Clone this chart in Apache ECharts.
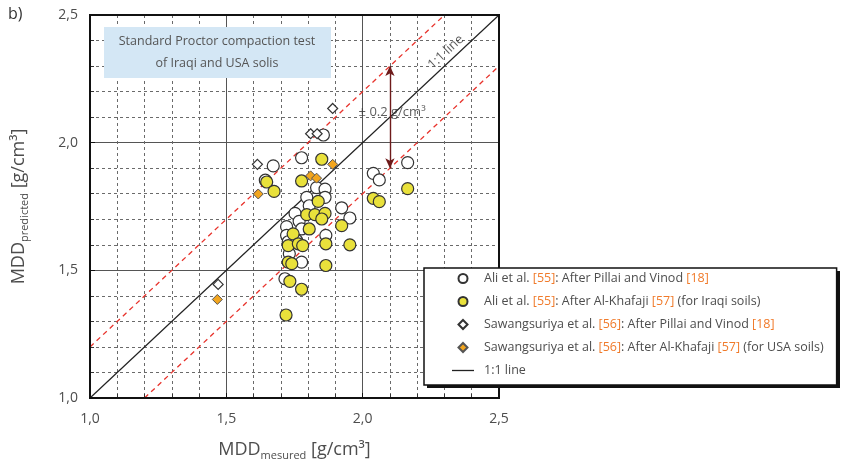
<!DOCTYPE html>
<html><head><meta charset="utf-8">
<script src="https://cdn.jsdelivr.net/npm/echarts@6/dist/echarts.min.js"></script>
<style>html,body{margin:0;padding:0;background:#fff}#c{width:842px;height:460px}</style>
</head><body><div id="c"></div>
<script>
// Ali et al. [55]: After Pillai and Vinod [18]  (white circles) [measured, predicted]
const aliPillai = [
  [1.856,2.030],[1.776,1.941],[1.672,1.909],[1.643,1.853],[2.165,1.922],[2.039,1.880],
  [2.061,1.854],[1.831,1.824],[1.862,1.818],[1.795,1.786],[1.862,1.786],[1.804,1.753],
  [1.923,1.745],[1.953,1.705],[1.752,1.723],[1.767,1.692],[1.721,1.671],[1.776,1.662],
  [1.721,1.637],[1.865,1.637],[1.758,1.617],[1.727,1.612],[1.731,1.565],[1.776,1.532],
  [1.715,1.467]
];
// Ali et al. [55]: After Al-Khafaji [57] (yellow circles)
const aliKhafaji = [
  [1.850,1.935],[1.648,1.846],[1.776,1.850],[1.675,1.809],[2.165,1.820],[2.039,1.782],
  [2.061,1.769],[1.837,1.770],[1.795,1.718],[1.825,1.718],[1.862,1.723],[1.850,1.701],
  [1.804,1.662],[1.923,1.675],[1.745,1.643],[1.727,1.597],[1.764,1.604],[1.780,1.597],
  [1.865,1.604],[1.953,1.600],[1.727,1.532],[1.740,1.526],[1.865,1.519],[1.733,1.457],
  [1.776,1.426],[1.719,1.325]
];
// Sawangsuriya et al. [56]: After Pillai and Vinod [18] (white diamonds)
const sawPillai = [[1.890,2.134],[1.809,2.035],[1.833,2.035],[1.614,1.915],[1.470,1.445]];
// Sawangsuriya et al. [56]: After Al-Khafaji [57] (orange diamonds)
const sawKhafaji = [[1.890,1.915],[1.809,1.870],[1.831,1.861],[1.617,1.799],[1.467,1.386]];

const axisMin = 1.0, axisMax = 2.5;
const band = 0.2;          // ± 0.2 g/cm³
const arrowX = 2.1;
const seriesNames = [
  'Ali et al. [55]: After Pillai and Vinod [18]',
  'Ali et al. [55]: After Al-Khafaji [57] (for Iraqi soils)',
  'Sawangsuriya et al. [56]: After Pillai and Vinod [18]',
  'Sawangsuriya et al. [56]: After Al-Khafaji [57] (for USA soils)',
  '1:1 line'
];

const FONT = '"Open Sans", "Noto Sans", sans-serif';
const TXT = '#4d4d4d';
const fmt = v => v.toFixed(1).replace('.', ',');
const DIAMOND = 'path://M5,0L10,5L5,10L0,5Z';
const BAR = 'path://M0,0L22,0L22,1.3L0,1.3Z';

const chart = echarts.init(document.getElementById('c'), null, {renderer:'canvas'});

const minorAxis = (pos) => ({
  type:'value', min:axisMin, max:axisMax, interval:0.1, position:pos,
  axisLine:{show:false}, axisLabel:{show:false},
  axisTick:{show:true, inside:true, length:4, lineStyle:{color:'#333', width:1}},
  splitLine:{show:true, showMinLine:false, showMaxLine:false, lineStyle:{color:'#6a6a6a', width:1, type:[3,3]}}
});

const richName = {
  m:{fontSize:18, color:TXT, fontFamily:FONT},
  s:{fontSize:11, color:TXT, fontFamily:FONT, padding:[12,0,0,0]}
};

const legendData = [
  {name:seriesNames[0], icon:'circle'},
  {name:seriesNames[1], icon:'circle'},
  {name:seriesNames[2], icon:DIAMOND},
  {name:seriesNames[3], icon:DIAMOND},
  {name:seriesNames[4], icon:BAR}
];
const legendBase = {
  orient:'vertical', left:424, top:268,
  data:legendData,
  padding:[4,13,8,28], itemGap:10, itemWidth:22, itemHeight:9,
  textStyle:{color:TXT, fontSize:12.5, fontFamily:FONT, padding:[0,0,0,5],
    rich:{o:{color:'#f07a2a', fontSize:12.5, fontFamily:FONT}}},
  formatter: n => n.replace(/\[(\d+)\]/g, '{o|[$1]}')
};

const option = {
  animation:false,
  backgroundColor:'#fff',
  textStyle:{fontFamily:FONT},
  grid:{left:90, right:343, top:15, bottom:62, outerBoundsMode:'none', containLabel:false,
        show:true, borderColor:'#111', borderWidth:2, backgroundColor:'transparent', z:10},
  xAxis:[
    minorAxis('bottom'),
    {type:'value', min:axisMin, max:axisMax, interval:0.5, position:'bottom',
     axisLine:{show:true, lineStyle:{color:'#111', width:2}},
     axisTick:{show:true, inside:true, length:5, lineStyle:{color:'#111'}},
     axisLabel:{formatter:fmt, color:TXT, fontSize:14, margin:14, fontFamily:FONT},
     splitLine:{show:true, showMinLine:false, showMaxLine:false, lineStyle:{color:'#555', width:1}},
     name:'{m|MDD}{s|mesured}{m| [g/cm³]}', nameLocation:'middle', nameGap:40,
     nameTextStyle:{rich:richName}}
  ],
  yAxis:[
    minorAxis('left'),
    {type:'value', min:axisMin, max:axisMax, interval:0.5, position:'left',
     axisLine:{show:true, lineStyle:{color:'#111', width:2}},
     axisTick:{show:true, inside:true, length:5, lineStyle:{color:'#111'}},
     axisLabel:{formatter:fmt, color:TXT, fontSize:14, margin:12, fontFamily:FONT},
     splitLine:{show:true, showMinLine:false, showMaxLine:false, lineStyle:{color:'#555', width:1}},
     name:'{m|MDD}{s|predicted}{m| [g/cm³]}', nameLocation:'middle', nameGap:60, nameRotate:90,
     nameTextStyle:{rich:richName}}
  ],
  legend:[
    Object.assign({}, legendBase, {z:30, backgroundColor:'#fff', borderColor:'#111', borderWidth:1.5}),
    Object.assign({}, legendBase, {z:29, backgroundColor:'#111', borderWidth:0,
      shadowColor:'#111', shadowBlur:0.1, shadowOffsetX:3, shadowOffsetY:3})
  ],
  graphic:[
    {type:'text', left:8, top:6, z:40, style:{text:'b)', fill:'#333', font:'16px '+FONT}},
    {type:'group', left:104, top:27, z:40, children:[
      {type:'rect', z:40, shape:{x:0,y:0,width:227,height:51}, style:{fill:'#d4e7f5'}},
      {type:'text', z:41, x:113, y:25, style:{text:'Standard Proctor compaction test\nof Iraqi and USA solis',
        fill:'#555', font:'12.5px '+FONT, align:'center', verticalAlign:'middle', lineHeight:22}}
    ]}
  ],
  series:[
    {type:'line', silent:true, data:[[axisMin, axisMin+band],[axisMax-band, axisMax]], symbol:'none',
     lineStyle:{color:'#e8332c', width:1.3, type:[5,4]}, z:3},
    {type:'line', silent:true, data:[[axisMin+band, axisMin],[axisMax, axisMax-band]], symbol:'none',
     lineStyle:{color:'#e8332c', width:1.3, type:[5,4]}, z:3},
    {name:seriesNames[4], type:'line', data:[[axisMin,axisMin],[axisMax,axisMax]], symbol:'none',
     itemStyle:{color:'#222'}, lineStyle:{color:'#222', width:1.2}, z:3,
     markLine:{silent:true, symbol:['arrow','arrow'], symbolSize:[7,10],
       lineStyle:{color:'#6e1b1b', width:1.4, type:'solid'}, label:{show:false},
       data:[[{coord:[arrowX, arrowX+band]},{coord:[arrowX, arrowX-band]}]]}},
    {type:'scatter', silent:true, data:[[1.985, 2.12]], symbolSize:0,
     label:{show:true, position:'right', distance:0, formatter:'± 0.2 g/cm³', color:'#333', fontSize:13, fontFamily:FONT}, z:4},
    {type:'scatter', silent:true, data:[[2.305, 2.355]], symbolSize:0,
     label:{show:true, position:'inside', rotate:43, formatter:'1:1 line', color:'#333', fontSize:13, fontFamily:FONT}, z:4},
    {name:seriesNames[0], type:'scatter', data:aliPillai, symbol:'circle', symbolSize:12,
     itemStyle:{color:'#fff', borderColor:'#333', borderWidth:1.2, opacity:1}, z:5},
    {name:seriesNames[1], type:'scatter', data:aliKhafaji, symbol:'circle', symbolSize:12,
     itemStyle:{color:'#e9e13b', borderColor:'#333', borderWidth:1.2, opacity:1}, z:6},
    {name:seriesNames[2], type:'scatter', data:sawPillai, symbol:'diamond', symbolSize:10,
     itemStyle:{color:'#fff', borderColor:'#333', borderWidth:1.2, opacity:1}, z:7},
    {name:seriesNames[3], type:'scatter', data:sawKhafaji, symbol:'diamond', symbolSize:10,
     itemStyle:{color:'#f2a51e', borderColor:'#555', borderWidth:1, opacity:1}, z:8}
  ]
};
chart.setOption(option);
</script>
</body></html>
